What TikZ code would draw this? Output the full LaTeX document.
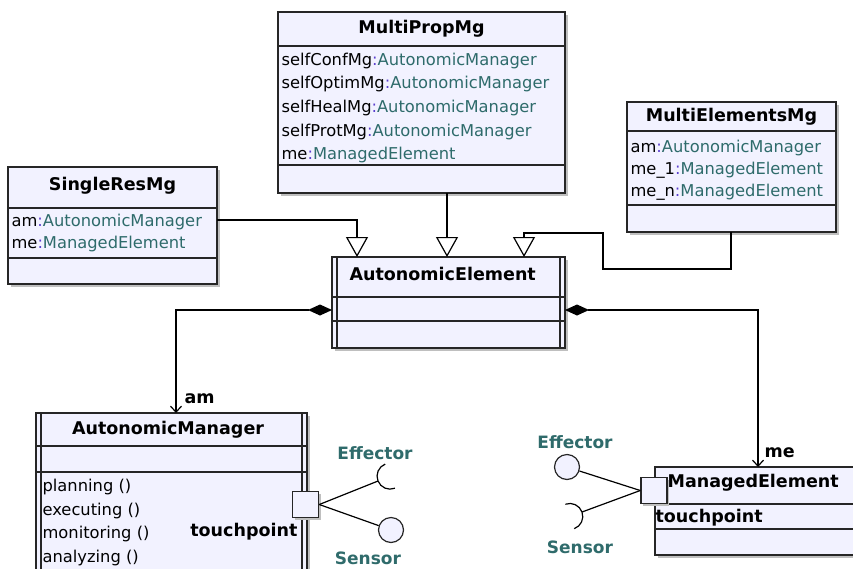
\documentclass[tikz,border=0pt]{standalone}
\usepackage{fontspec}
\setmainfont{DejaVu Sans}
\usepackage{xcolor}
\usepackage{tikz}
\usetikzlibrary{positioning, arrows.meta, calc, shadows}

\definecolor{umlfill}{HTML}{F2F2FF}
\definecolor{typec}{HTML}{2E6B6B}
\definecolor{colonc}{HTML}{5B3FCF}
\definecolor{portlbl}{HTML}{2F6B6B}

\newcommand\attr[2]{#1\textcolor{colonc}{:}\textcolor{typec}{#2}}
\newcommand\compsep[2]{\draw[line width=1.5pt, black!85]
  ($(#1.north west)+(0,#2)$) -- ($(#1.north east)+(0,#2)$);}
\newcommand\activebars[1]{\draw[line width=1.5pt, black!85]
  ($(#1.north west)+(5,0)$) -- ($(#1.south west)+(5,0)$)
  ($(#1.north east)+(-5,0)$) -- ($(#1.south east)+(-5,0)$);}

\begin{document}
\begin{tikzpicture}[
  x=1pt, y=-1pt,
  line width=1.2pt,
  cls/.style={draw=black!85, fill=umlfill, line width=1.5pt, anchor=north west,
    inner sep=0pt, outer sep=0pt,
    drop shadow={shadow xshift=3pt, shadow yshift=-3pt, fill=black!25, opacity=1}},
  clsname/.style={font=\fontsize{17.5}{20}\selectfont\bfseries, inner sep=0pt},
  field/.style={font=\fontsize{16.3}{18}\selectfont, anchor=west, inner sep=0pt},
  port/.style={draw=black!85, fill=umlfill, line width=1.5pt, minimum size=26pt,
    inner sep=0pt, drop shadow={shadow xshift=2pt, shadow yshift=-2pt, fill=black!25, opacity=1}},
  iface/.style={draw=black!85, fill=umlfill, circle, minimum size=25pt, inner sep=0pt},
  plbl/.style={font=\fontsize{17}{20}\selectfont\bfseries, text=portlbl, inner sep=0pt},
  gen/.style={-{Triangle[width=22pt, length=20pt, fill=white]}},
  comp/.style={{Diamond[length=24pt, width=11pt]}-{Straight Barb[length=6pt, width=11pt]}},
]
  \useasboundingbox (0,0) rectangle (853,568);
  \clip (0,0) rectangle (853,568);
  \fill[white] (0,0) rectangle (853,568);

  % classes
  \node[cls, minimum width=287pt, minimum height=181pt] (mpm) at (278,12) {};
  \node[cls, minimum width=209pt, minimum height=117pt] (srm) at (8,167) {};
  \node[cls, minimum width=209pt, minimum height=130pt] (mem) at (627,102) {};
  \node[cls, minimum width=233pt, minimum height=91pt] (ae) at (332,257) {};
  \node[cls, minimum width=271pt, minimum height=175pt] (amg) at (36,413) {};
  \node[cls, minimum width=220pt, minimum height=88pt] (mel) at (655,467) {};

  \compsep{mpm}{34} \compsep{mpm}{153}
  \compsep{srm}{41} \compsep{srm}{91}
  \compsep{mem}{29} \compsep{mem}{103}
  \compsep{ae}{40} \compsep{ae}{64}
  \compsep{amg}{33} \compsep{amg}{59}
  \compsep{mel}{37} \compsep{mel}{62}
  \activebars{ae} \activebars{amg}

  \node[clsname] (mpm-t) at (421.5,28.5) {MultiPropMg};
  \node[clsname] (srm-t) at (112.5,186) {SingleResMg};
  \node[clsname] (mem-t) at (731.5,117) {MultiElementsMg};
  \node[clsname, anchor=west] (ae-t) at (349,274) {AutonomicElement};
  \node[clsname] (amg-t) at (168,430) {AutonomicManager};
  \node[clsname, anchor=west] (mel-t) at (667,483) {ManagedElement};

  \foreach \n/\t [count=\i] in {selfConfMg/AutonomicManager, selfOptimMg/AutonomicManager,
      selfHealMg/AutonomicManager, selfProtMg/AutonomicManager, me/ManagedElement}
    \node[field] (mpm-a\i) at (281,{61+23.5*(\i-1)}) {\attr{\n}{\t}};
  \foreach \n/\t [count=\i] in {am/AutonomicManager, me/ManagedElement}
    \node[field] (srm-a\i) at (11,{222+22*(\i-1)}) {\attr{\n}{\t}};
  \foreach \n/\t [count=\i] in {am/AutonomicManager, me\_1/ManagedElement, me\_n/ManagedElement}
    \node[field] (mem-a\i) at (630,{148+22*(\i-1)}) {\attr{\n}{\t}};
  \foreach \op [count=\i] in {planning (), executing (), monitoring (), analyzing ()}
    \node[field] (amg-o\i) at (42,{487+23.5*(\i-1)}) {\op};

  \node[clsname, anchor=east] (amg-tp) at (298,532) {touchpoint};
  \node[clsname, anchor=west] (mel-tp) at (655,518) {touchpoint};

  % ports and interfaces
  \node[port] (amg-port) at (305.5,504.5) {};
  \node[port] (mel-port) at (654,490.5) {};
  \node[iface] (amg-sen) at (391,530) {};
  \coordinate (amg-eff) at (378,481);
  \node[iface] (mel-eff) at (567,467) {};
  \coordinate (mel-sen) at (582,512);

  \draw (amg-port.east) -- (amg-eff);
  \draw (amg-eff) ++(22:13pt) ++(112:13pt) arc[start angle=112, end angle=292, radius=13pt];
  \draw (amg-port.east) -- (amg-sen);
  \draw (mel-port.west) -- (mel-eff);
  \draw (mel-port.west) -- (mel-sen);
  \draw (mel-sen) ++(200:13pt) ++(-70:13pt) arc[start angle=-70, end angle=110, radius=13pt];

  \node[plbl] (amg-eff-l) at (375,453) {Effector};
  \node[plbl] (amg-sen-l) at (368,558) {Sensor};
  \node[plbl] (mel-eff-l) at (575,442) {Effector};
  \node[plbl] (mel-sen-l) at (580,547) {Sensor};
  \node[clsname, anchor=west] (am-role) at (184,399) {am};
  \node[clsname, anchor=west] (me-role) at (764,453) {me};

  % generalizations and compositions
  \draw[gen] ($(srm.north east)+(0,53)$) -| ($(ae.north west)+(25,0)$);
  \draw[gen] ($(mpm.south west)+(169,0)$) -- ($(ae.north west)+(115,0)$);
  \draw[gen] ($(mem.south west)+(104,0)$) -- ++(0,37) -| ++(-128,-36)
    -| ($(ae.north west)+(192,0)$);
  \draw[comp] ($(ae.north west)+(0,53)$) -| ($(amg.north west)+(140,0)$);
  \draw[comp] ($(ae.north east)+(0,53)$) -| ($(mel.north west)+(103,0)$);
\end{tikzpicture}
\end{document}
